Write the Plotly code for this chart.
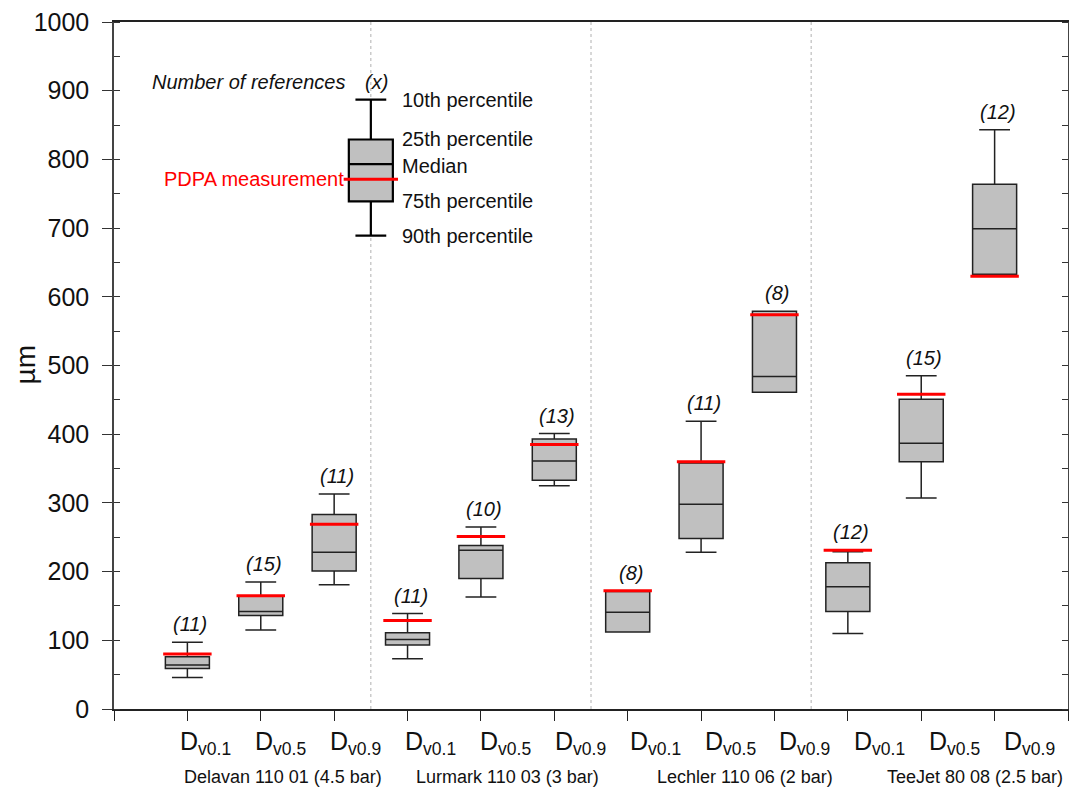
import plotly.graph_objects as go

# ---------------- data ----------------
groups = ["Delavan 110 01 (4.5 bar)", "Lurmark 110 03 (3 bar)",
          "Lechler 110 06 (2 bar)", "TeeJet 80 08 (2.5 bar)"]
stats = ["v0.1", "v0.5", "v0.9"]

upper = [97, 185, 313, 139, 265, 401, 171, 419, 579, 229, 485, 843]
q3 = [76, 164, 283, 111, 238, 393, 171, 358, 579, 213, 451, 764]
median = [64, 142, 228, 101, 231, 361, 141, 298, 484, 178, 387, 699]
q1 = [59, 136, 201, 93, 190, 333, 112, 248, 461, 142, 360, 633]
lower = [46, 115, 181, 73, 163, 325, 112, 228, 461, 110, 307, 633]
pdpa = [80, 165, 269, 129, 251, 385, 172, 360, 574, 231, 458, 630]
counts = [11, 15, 11, 11, 10, 13, 8, 11, 8, 12, 15, 12]

# key (legend) box
key_upper, key_q3, key_median, key_q1, key_lower = 887, 829, 793, 739, 689
key_pdpa = 771

yticks = list(range(0, 1001, 100))

# ---------------- figure ----------------
FONT = "Liberation Sans, Arial, Helvetica, sans-serif"
n = len(upper)
pos = list(range(1, n + 1))

fig = go.Figure()

# group separators
for g in range(1, len(groups)):
    xs = g * len(stats) + 0.5
    fig.add_shape(type="line", xref="x", yref="paper", x0=xs, x1=xs, y0=0, y1=1,
                  line=dict(color="#b0b0b0", width=1, dash="dot"), layer="below")

fig.add_trace(go.Box(
    x=pos, q1=q1, median=median, q3=q3, lowerfence=lower, upperfence=upper,
    width=0.6, whiskerwidth=0.7, fillcolor="#c0c0c0",
    line=dict(color="#222222", width=1.5), boxpoints=False, showlegend=False,
    hoverinfo="skip"))

# PDPA lines
rx, ry = [], []
for p, v in zip(pos, pdpa):
    rx += [p - 0.33, p + 0.33, None]
    ry += [v, v, None]
fig.add_trace(go.Scatter(x=rx, y=ry, mode="lines", line=dict(color="#ff0000", width=3),
                         showlegend=False, hoverinfo="skip"))

# key box
kx = len(stats) + 0.5
fig.add_trace(go.Box(
    x=[kx], q1=[key_q1], median=[key_median], q3=[key_q3],
    lowerfence=[key_lower], upperfence=[key_upper],
    width=0.6, whiskerwidth=0.7, fillcolor="#c0c0c0",
    line=dict(color="#000000", width=2.2), boxpoints=False, showlegend=False,
    hoverinfo="skip"))
fig.add_trace(go.Scatter(x=[kx - 0.37, kx + 0.37], y=[key_pdpa, key_pdpa], mode="lines",
                         line=dict(color="#ff0000", width=3), showlegend=False,
                         hoverinfo="skip"))

ann = []
# count labels
for p, u, r, c in zip(pos, upper, pdpa, counts):
    ann.append(dict(x=p, y=max(u, r), xref="x", yref="y", text=f"<i>({c})</i>",
                    showarrow=False, yanchor="middle", yshift=18, xshift=3,
                    font=dict(size=20, color="#111", family=FONT)))

# key labels
ann.append(dict(x=kx, y=key_upper, xref="x", yref="y", text="<i>(x)</i>", showarrow=False,
                yanchor="middle", yshift=18, xshift=6, font=dict(size=20, color="#111", family=FONT)))
ann.append(dict(x=kx, y=key_upper, xref="x", yref="y", text="<i>Number of references</i>",
                showarrow=False, xanchor="right", yanchor="middle", yshift=18, xshift=-24,
                font=dict(size=20, color="#111", family=FONT)))
ann.append(dict(x=kx, y=key_pdpa, xref="x", yref="y", text="PDPA measurement",
                showarrow=False, xanchor="right", yanchor="middle", xshift=-25,
                font=dict(size=20, color="#ff0000", family=FONT)))
for txt, v in [("10th percentile", key_upper), ("25th percentile", key_q3),
               ("Median", key_median), ("75th percentile", key_q1),
               ("90th percentile", key_lower)]:
    ann.append(dict(x=kx, y=v, xref="x", yref="y", text=txt, showarrow=False,
                    xanchor="left", yanchor="middle", xshift=29,
                    yshift=(-2 if txt == "Median" else 0),
                    font=dict(size=20, color="#111", family=FONT)))

# category labels
for i, p in enumerate(pos):
    s = stats[i % len(stats)]
    ann.append(dict(x=p, y=0, xref="x", yref="paper", text=f"D<sub>{s}</sub>",
                    showarrow=False, xanchor="left", yanchor="top",
                    xshift=-9 + 1.5 * i, yshift=-16,
                    font=dict(size=25, color="#111", family=FONT)))

# group labels
gshift = [22, 27, 44, 54]
for g, name in enumerate(groups):
    ann.append(dict(x=g * len(stats) + 2, y=0, xref="x", yref="paper", text=name,
                    showarrow=False, xanchor="center", yanchor="top",
                    xshift=gshift[g], yshift=-56,
                    font=dict(size=18, color="#111", family=FONT)))

# y-axis title
ann.append(dict(x=0, y=0.5, xref="paper", yref="paper", text="µm", showarrow=False,
                textangle=-90, xanchor="center", yanchor="middle", xshift=-89,
                font=dict(size=28, color="#111", family=FONT)))

fig.update_layout(
    width=1069, height=787,
    margin=dict(l=114, r=1, t=22, b=78, autoexpand=False),
    paper_bgcolor="white", plot_bgcolor="white",
    font=dict(family=FONT, color="#111"),
    annotations=ann,
    xaxis=dict(range=[0, n + 1], tickvals=list(range(0, n + 2)), showticklabels=False,
               ticks="outside", ticklen=10, tickcolor="#222", tickwidth=1.2,
               showline=True, linecolor="#222", linewidth=1.5, mirror=True,
               showgrid=False, zeroline=False, automargin=False),
    yaxis=dict(range=[0, 1000], tickvals=yticks, ticktext=[str(t) for t in yticks],
               ticks="outside", ticklen=10, tickcolor="#333", tickwidth=1.2,
               tickfont=dict(size=25, color="#111"), ticklabelstandoff=8,
               minor=dict(dtick=50, ticks="inside", ticklen=6, tickcolor="#333", tickwidth=1.2),
               showline=True, linecolor="#444", linewidth=1.5, mirror="ticks",
               showgrid=False, zeroline=False, automargin=False),
)

fig.write_html("out.html")
